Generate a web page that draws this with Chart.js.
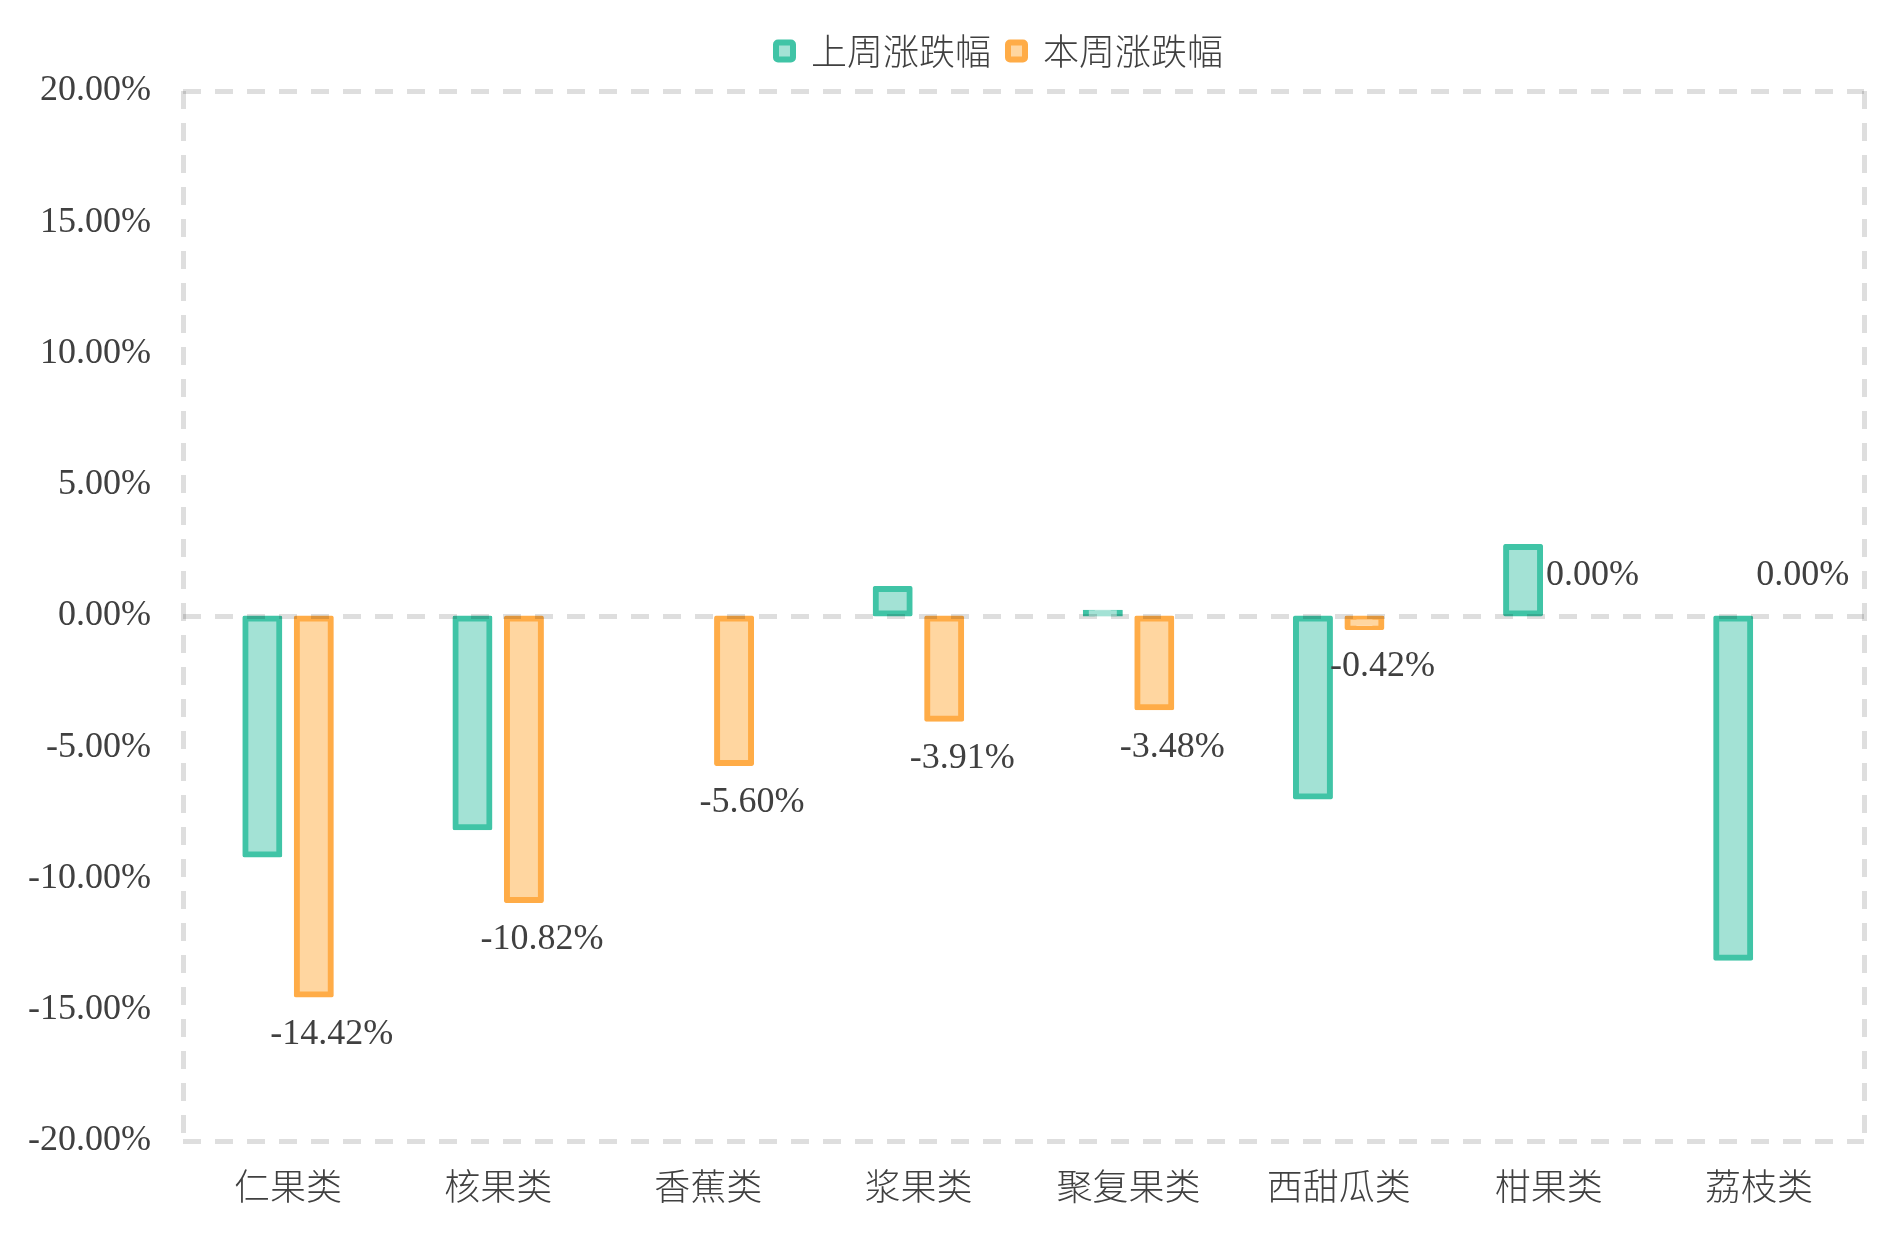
<!DOCTYPE html>
<html lang="zh-CN">
<head>
    <meta charset="UTF-8">
    <title>上周/本周涨跌幅</title>
    <script src="https://cdn.jsdelivr.net/npm/chart.js"></script>
    <style>
        body {
            margin: 0;
            background: #fff;
        }
        .wrap {
            width: 1902px;
            height: 1243px;
        }
    </style>
</head>
<body>

<div class="wrap">
    <canvas id="changeChart"></canvas>
</div>

<script>
    // categories and the two series (percent change)
    const categories = ['仁果类', '核果类', '香蕉类', '浆果类', '聚复果类', '西甜瓜类', '柑果类', '荔枝类'];
    const lastWeek = [-9.09, -8.05, 0, 1.03, 0.12, -6.88, 2.63, -13.02];
    const thisWeek = [-14.42, -10.82, -5.60, -3.91, -3.48, -0.42, 0.00, 0.00];
    const seriesNames = ['上周涨跌幅', '本周涨跌幅'];

    const yMin = -20;
    const yMax = 20;
    const yStep = 5;

    const textColor = '#404040';
    const serif = '"Liberation Serif", "Times New Roman", "Noto Sans CJK SC", serif';
    const cjk = '"Noto Sans CJK SC", "Liberation Serif", sans-serif';
    const gridColor = 'rgba(0, 0, 0, 0.13)';
    const noLine = 'rgba(0, 0, 0, 0)';
    const dash = [18, 14];

    // value labels under/over the orange bars
    const barLabels = {
        id: 'barLabels',
        afterDatasetsDraw(chart) {
            const meta = chart.getDatasetMeta(1);
            const ctx = chart.ctx;
            ctx.save();
            ctx.font = '36px ' + serif;
            ctx.fillStyle = textColor;
            ctx.textAlign = 'center';
            ctx.textBaseline = 'middle';
            meta.data.forEach((bar, i) => {
                const v = thisWeek[i];
                const y = v < 0 ? bar.y + 40 : bar.y - 40;
                ctx.fillText(v.toFixed(2) + '%', bar.x + 18, y);
            });
            ctx.restore();
        }
    };

    const ctx = document.getElementById('changeChart').getContext('2d');

    const changeChart = new Chart(ctx, {
        type: 'bar',
        data: {
            labels: categories,
            datasets: [{
                label: seriesNames[0],
                data: lastWeek,
                backgroundColor: '#a3e2d5',
                borderColor: '#40c4a6',
                borderWidth: 6,
                borderRadius: 2,
                borderSkipped: false,
                inflateAmount: 3
            }, {
                label: seriesNames[1],
                data: thisWeek,
                backgroundColor: '#ffd6a0',
                borderColor: '#ffac47',
                borderWidth: 6,
                borderRadius: 2,
                borderSkipped: false,
                inflateAmount: 3
            }]
        },
        options: {
            responsive: true,
            maintainAspectRatio: false,
            animation: false,
            datasets: {
                bar: {
                    categoryPercentage: 0.49,
                    barPercentage: 0.66
                }
            },
            // negative right padding only moves the legend centre; the
            // empty right axis below keeps the plot edge where it belongs
            layout: {
                padding: { top: 16, left: 0, right: -97, bottom: 0 }
            },
            plugins: {
                tooltip: { enabled: false },
                legend: {
                    position: 'top',
                    labels: {
                        boxWidth: 17,
                        boxHeight: 17,
                        useBorderRadius: true,
                        borderRadius: 2,
                        padding: 17,
                        color: textColor,
                        font: { size: 36, family: cjk, weight: '300' }
                    }
                },
                // empty title used as a gap between legend and plot
                title: {
                    display: true,
                    text: ' ',
                    weight: 500,
                    font: { size: 1, lineHeight: 1 },
                    padding: { top: 0, bottom: 11 }
                }
            },
            scales: {
                x: {
                    grid: {
                        drawTicks: false,
                        lineWidth: 5,
                        // only the outer edges (left and right frame)
                        color: (c) => (c.index === 0 || c.type === 'scale') ? '#dedede' : noLine
                    },
                    border: { display: false, dash: dash },
                    ticks: {
                        autoSkip: false,
                        maxRotation: 0,
                        padding: 24,
                        color: textColor,
                        font: { size: 36, family: cjk, weight: '300' }
                    },
                    afterFit(scale) { scale.height = 102; }
                },
                y: {
                    min: yMin,
                    max: yMax,
                    grid: {
                        z: 1,
                        drawTicks: false,
                        lineWidth: 5,
                        // frame top, zero line and frame bottom only
                        color: (c) => {
                            const v = c.tick ? c.tick.value : null;
                            return (v === 0 || v === yMin || v === yMax) ? gridColor : noLine;
                        }
                    },
                    border: { display: false, dash: dash },
                    ticks: {
                        stepSize: yStep,
                        padding: 32,
                        color: textColor,
                        font: { size: 36, family: serif },
                        callback: (v) => v.toFixed(2) + '%'
                    },
                    afterFit(scale) { scale.width = 183; }
                },
                yRight: {
                    position: 'right',
                    grid: { display: false },
                    border: { display: false },
                    ticks: { display: false },
                    afterFit(scale) { scale.width = 135; }
                }
            }
        },
        plugins: [barLabels]
    });
</script>

</body>
</html>
